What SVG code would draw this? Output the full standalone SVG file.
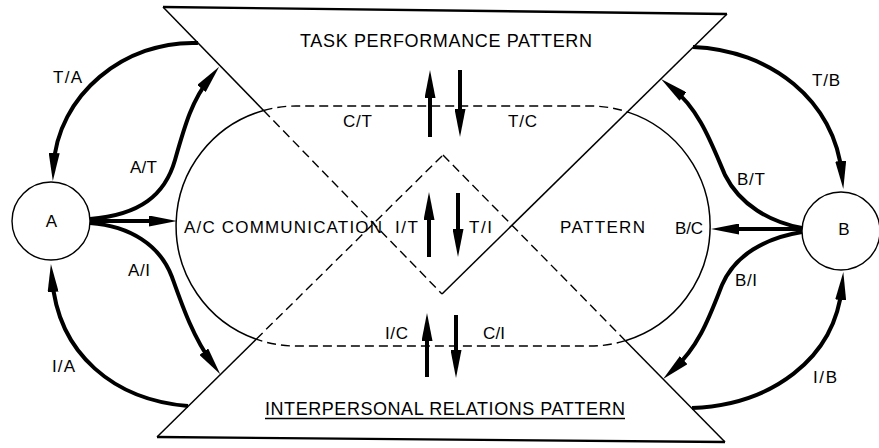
<svg xmlns="http://www.w3.org/2000/svg" width="879" height="448" viewBox="0 0 879 448">
<style>
.ln{fill:none;stroke:#000;stroke-width:1.5}
.ds{fill:none;stroke:#000;stroke-width:1.4;stroke-dasharray:9 5}
.edge{fill:none;stroke:#000;stroke-width:2.4}
.cn{fill:none;stroke:#000;stroke-width:4;marker-end:url(#ah)}
.cn0{fill:none;stroke:#000;stroke-width:4}
.nd{fill:#fff;stroke:#000;stroke-width:1.4}
text{font-family:"Liberation Sans",Arial,sans-serif;font-size:17px;fill:#000}
.ttl{font-size:18px}
</style>
<defs>
<marker id="ah" viewBox="0 0 28 11" markerWidth="28" markerHeight="11" refX="14" refY="5.5" markerUnits="userSpaceOnUse" orient="auto">
<path d="M0,0 L28,5.5 L0,11 Z" fill="#000"/>
</marker>
</defs>

<g id="task-performance-pattern">
<path class="edge" d="M163,7 L727,14"/>
<path class="ln" d="M727,14 L442,294"/>
<path class="ln" d="M163,7 L263.6,110.5"/>
<path class="ds" d="M263.6,110.5 L442,294"/>
<text class="ttl" x="300" y="47" textLength="292">TASK PERFORMANCE PATTERN</text>
</g>

<g id="interpersonal-relations-pattern">
<path class="edge" d="M157,437 L725,442"/>
<path class="ln" d="M157,437 L256.2,339.2"/>
<path class="ds" d="M256.2,339.2 L443,155"/>
<path class="ds" d="M443,155 L625.4,340.7"/>
<path class="ln" d="M625.4,340.7 L725,442"/>
<text class="ttl" x="265" y="415" textLength="360">INTERPERSONAL RELATIONS PATTERN</text>
<path class="ln" d="M265,418.5 L625,418.5"/>
</g>

<g id="communication-pattern">
<path class="ln" d="M263.6,110.5 A120,120 0 0 0 256.2,339.2"/>
<path class="ln" d="M627.3,111.9 A120,120 0 0 1 625.4,340.7"/>
<path class="ds" d="M263.6,110.5 A120,120 0 0 1 296,106 L590,106 A120,120 0 0 1 627.3,111.9"/>
<path class="ds" d="M625.4,340.7 A120,120 0 0 1 590,346 L296,346 A120,120 0 0 1 256.2,339.2"/>
<text x="184" y="233" textLength="198">A/C COMMUNICATION</text>
<text x="560" y="233" textLength="85">PATTERN</text>
</g>

<g id="connectors">
<path class="cn" d="M198,43 C125,40 57,95 53.5,167"/>
<path class="cn" d="M90,219 C140,215 165,195 175,160 C185,125 192,100 210.3,77.6"/>
<path class="cn" d="M90,221 L163,221"/>
<path class="cn" d="M90,223 C130,226 160,245 172,277 C182,305 193,337 212,363"/>
<path class="cn" d="M188,406 C115,400 58,355 52,278"/>
<path class="cn" d="M693,47 C770,50 835,100 842,175"/>
<path class="cn" d="M802,228 C770,222 740,205 725,175 C712,145 700,110 672,87.8"/>
<path class="cn" d="M802,229 L725,229"/>
<path class="cn" d="M802,232 C765,238 735,255 722,285 C710,315 700,345 673.4,369.6"/>
<path class="cn" d="M692,408 C770,405 835,360 842,286"/>
<path class="cn" d="M430,137 L430,84"/>
<path class="cn" d="M460,70 L460,123"/>
<path class="cn" d="M429,257 L429,206"/>
<path class="cn" d="M458,193 L458,243"/>
<path class="cn" d="M427,377 L427,327"/>
<path class="cn" d="M456,315 L456,364"/>
<text x="53" y="83" textLength="29">T/A</text>
<text x="130" y="173" textLength="27">A/T</text>
<text x="128" y="276" textLength="22">A/I</text>
<text x="52" y="372" textLength="23">I/A</text>
<text x="812" y="86" textLength="28">T/B</text>
<text x="737" y="185" textLength="28">B/T</text>
<text x="675" y="234" textLength="28">B/C</text>
<text x="735" y="286" textLength="22">B/I</text>
<text x="813" y="383" textLength="24">I/B</text>
<text x="343" y="127" textLength="29">C/T</text>
<text x="508" y="127" textLength="29">T/C</text>
<text x="395" y="233" textLength="23">I/T</text>
<text x="469" y="233" textLength="23">T/I</text>
<text x="385" y="339" textLength="23">I/C</text>
<text x="483" y="339" textLength="22">C/I</text>
</g>

<g id="node-A">
<circle class="nd" cx="51" cy="221" r="39"/>
<text x="51.5" y="227" text-anchor="middle">A</text>
</g>

<g id="node-B">
<circle class="nd" cx="841" cy="231" r="39"/>
<text x="844" y="235" text-anchor="middle">B</text>
</g>
</svg>
